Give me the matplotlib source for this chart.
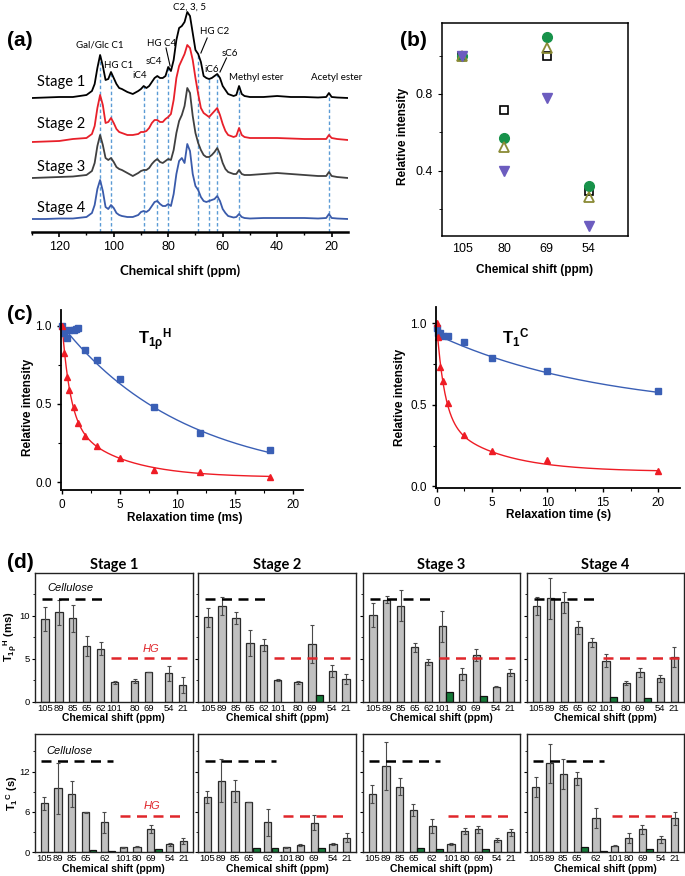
import numpy as np
import matplotlib
matplotlib.use('Agg')
import matplotlib.pyplot as plt
from matplotlib.ticker import MultipleLocator, FixedLocator

plt.rcParams['font.family'] = ['Liberation Sans', 'DejaVu Sans']
plt.rcParams['mathtext.fontset'] = 'custom'
plt.rcParams['mathtext.rm'] = 'Liberation Sans'
plt.rcParams['mathtext.bf'] = 'Liberation Sans:bold'
plt.rcParams['mathtext.it'] = 'Liberation Sans:italic'

W, H = 685, 876
fig = plt.figure(figsize=(W / 100, H / 100), dpi=100)


def box(l, t, r, b):
    return [l / W, 1 - b / H, (r - l) / W, (b - t) / H]


def ftext(x, y, s, **kw):
    kw.setdefault('ha', 'center')
    kw.setdefault('va', 'center')
    return fig.text(x / W, 1 - y / H, s, **kw)


CAL = ['Lato', 'DejaVu Sans']

# ---------------------------------------------------------------- data (a)
ppm = [130, 125, 120, 115, 110, 108, 107, 106, 105, 104, 103, 102, 101, 100, 99, 98, 97, 95,
       93, 91, 90, 89, 88, 87, 86, 85, 84, 83, 82, 81, 80, 79, 78, 77, 76, 75, 74, 73, 72,
       71, 70, 69, 68, 67, 66, 65, 64, 63, 62, 61, 60, 59, 58, 56, 55, 54, 53, 52, 50, 45,
       40, 35, 30, 25, 22, 21, 20, 18, 14]
stage1 = [0, 0.5, 1, 1, 3, 7, 14, 30, 43, 32, 18, 19, 26, 20, 14, 10, 9, 6,
          4, 7, 9, 12, 10, 12, 16, 20, 22, 20, 20, 22, 31, 27, 38, 58, 70, 72, 76, 86, 82,
          65, 48, 44, 36, 22, 20, 19, 20, 22, 24, 20, 12, 8, 4, 2, 3, 12, 4, 2, 1, 1,
          2, 1, 1, 0.5, 1, 5, 1, 0.5, 0]
stage2 = [-2, -1.5, -1, 1, 2, 6, 14, 32, 45, 35, 17, 18, 22, 17, 11, 8, 7, 5,
          5, 6, 8, 8, 9, 12, 17, 20, 20, 18, 18, 21, 23, 26, 40, 62, 74, 80, 86, 95, 92,
          80, 62, 46, 32, 27, 25, 23, 26, 29, 32, 25, 16, 9, 5, 3, 4, 12, 5, 3, 2, 2,
          2, 1.5, 1, 1, 1, 5, 2, 1, 0]
stage3 = [0, 0.5, 1, 1.5, 3, 7, 15, 32, 43, 33, 20, 18, 20, 16, 11, 9, 8, 5,
          2, 5, 7, 8, 8, 10, 14, 17, 19, 16, 15, 17, 19, 18, 28, 45, 57, 63, 72, 90, 85,
          62, 45, 35, 28, 23, 21, 21, 23, 26, 30, 24, 15, 9, 6, 4, 4, 8, 4, 3, 3, 4,
          5, 4, 3, 2, 2, 6, 2, 1, 0]
stage4 = [0, 0, 0.5, 0.5, 2, 6, 14, 30, 39, 28, 12, 10, 14, 11, 6, 4, 3, 2,
          2, 4, 7, 8, 7, 9, 13, 17, 18, 15, 13, 13, 15, 13, 25, 45, 58, 61, 56, 75, 68,
          45, 33, 29, 22, 18, 17, 18, 19, 20, 23, 18, 10, 6, 3, 1.5, 2, 5, 2, 1, 0.5, 1,
          1, 1, 1, 0.5, 1, 5, 1, 0.5, 0]
stage_names = ['Stage 1', 'Stage 2', 'Stage 3', 'Stage 4']
marked_shifts = [105, 101, 89, 84, 80, 69, 65, 62, 54, 21]
peak_labels = ['Gal/Glc C1', 'HG C1', 'iC4', 'sC4', 'HG C4', 'C2, 3, 5', 'HG C2',
               'iC6', 'sC6', 'Methyl ester', 'Acetyl ester']

# ---------------------------------------------------------------- data (b)
b_cats = ['105', '80', '69', '54']
b_square = [1.0, 0.717, 1.0, 0.296]
b_circle = [1.0, 0.571, 1.096, 0.322]
b_triangle = [1.0, 0.525, 1.04, 0.265]
b_down = [1.0, 0.40, 0.78, 0.114]

# ---------------------------------------------------------------- data (c)
h_time_blue = [0, 0.2, 0.4, 0.6, 1.0, 1.2, 1.4, 2, 3, 5, 8, 12, 18]
h_int_blue = [1.0, 0.953, 0.92, 0.974, 0.974, 0.98, 0.987, 0.846, 0.782, 0.66, 0.479, 0.312, 0.205]
h_time_red = [0, 0.2, 0.4, 0.6, 1.0, 1.4, 2, 3, 5, 8, 12, 18]
h_int_red = [1.0, 0.825, 0.675, 0.59, 0.479, 0.38, 0.295, 0.23, 0.156, 0.077, 0.062, 0.034]
h_fit_blue = dict(a=1.0, T=10.8)
h_fit_red = dict(a1=0.6, T1=0.7, a2=0.37, T2=4.5, c=0.03)

c_time_blue = [0, 0.1, 0.35, 0.6, 1.0, 2.5, 5, 10, 20]
c_int_blue = [0.974, 0.94, 0.94, 0.925, 0.923, 0.884, 0.786, 0.709, 0.582]
c_time_red = [0, 0.1, 0.35, 0.6, 1.0, 2.5, 5, 10, 20]
c_int_red = [1.0, 0.913, 0.735, 0.649, 0.51, 0.312, 0.214, 0.161, 0.096]
c_fit_blue = dict(a1=0.07, T1=0.15, a2=0.48, T2=15.0, c=0.45)
c_fit_red = dict(a1=0.58, T1=0.7, a2=0.33, T2=5.0, c=0.09)

# ---------------------------------------------------------------- data (d)
d_cats = ['105', '89', '85', '65', '62', '101', '80', '69', '54', '21']
t1rho_green_cats = ['101', '69']
t1c_green_cats = ['65', '62', '69']

t1rho = [[9.6, 10.4, 9.7, 6.5, 6.15, 2.26, 2.41, 3.5, 3.3, 1.95],
         [9.84, 11.15, 9.7, 6.8, 6.6, 2.49, 2.26, 6.7, 3.6, 2.65],
         [10.1, 11.9, 11.2, 6.34, 4.66, 8.8, 3.23, 5.44, 1.75, 3.38],
         [11.15, 12.05, 11.58, 8.67, 6.92, 4.78, 2.2, 3.42, 2.72, 5.17]]
t1rho_err = [[1.4, 1.5, 1.6, 1.2, 0.75, 0.2, 0.2, 0.0, 0.9, 0.95],
             [1.1, 1.0, 0.7, 1.5, 0.7, 0.1, 0.15, 2.2, 0.7, 0.55],
             [1.4, 0.4, 1.8, 0.5, 0.35, 1.8, 0.65, 0.75, 0.05, 0.4],
             [1.0, 2.4, 1.2, 0.75, 0.55, 0.75, 0.2, 0.55, 0.4, 1.17]]
t1rho_green = [[np.nan, np.nan],
               [np.nan, 0.75],
               [1.1, 0.63],
               [0.6, 0.45]]

t1c = [[7.29, 9.52, 8.68, 5.95, 4.46, 0.74, 0.84, 3.42, 1.19, 1.68],
       [8.18, 10.65, 9.12, 7.44, 4.46, 0.74, 1.09, 4.4, 1.24, 2.2],
       [8.68, 12.84, 9.76, 6.29, 3.91, 1.24, 3.17, 3.42, 1.83, 2.98],
       [9.67, 13.24, 11.65, 11.0, 5.06, 0.99, 2.18, 3.42, 1.93, 5.06]]
t1c_err = [[1.0, 3.8, 1.9, 0.05, 1.6, 0.05, 0.05, 0.6, 0.2, 0.45],
           [0.9, 3.2, 1.6, 0.0, 2.0, 0.05, 0.1, 1.15, 0.1, 0.6],
           [1.35, 3.5, 1.25, 0.9, 1.05, 0.15, 0.5, 0.55, 0.3, 0.5],
           [1.5, 2.9, 2.3, 1.0, 1.5, 0.1, 0.75, 0.65, 0.5, 1.0]]
t1c_green = [[0.34, 0.24, 0.45],
             [0.6, 0.6, 0.6],
             [0.69, 0.45, 0.45],
             [0.84, 0.24, 0.45]]
cellulose_ref = [12.0, 13.6]
hg_ref = [5.1, 5.4]

# ================================================================ panel (a)
ax = fig.add_axes(box(32, 2, 348, 232))
ax.set_xlim(130, 14)
ax.set_ylim(0, 230)
for s in ['top', 'right', 'left']:
    ax.spines[s].set_visible(False)
ax.spines['bottom'].set_linewidth(1.8)
ax.set_yticks([])
ax.xaxis.set_major_locator(MultipleLocator(20))
ax.xaxis.set_minor_locator(MultipleLocator(10))
ax.tick_params(axis='x', which='major', direction='out', length=3.5, width=1.2,
               labelsize=9, pad=3)
ax.tick_params(axis='x', which='minor', direction='out', length=2.5, width=1)

bases = [134, 92, 54, 13]
colors_a = ['#000000', '#e8202a', '#404040', '#3a5bab']
spectra = [stage1, stage2, stage3, stage4]
ppm_arr = np.array(ppm, float)
for sp, base, col in zip(spectra, bases, colors_a):
    ax.plot(ppm_arr, base + np.array(sp, float), color=col, lw=1.3, zorder=3)

s1 = np.array(stage1, float)
for p in marked_shifts:
    top = bases[0] + np.interp(p, ppm_arr[::-1], s1[::-1])
    ax.plot([p, p], [0, top], ls=(0, (2.5, 1.8)), color='#5b9bd5', lw=1.0, zorder=2)

lab_pos = [(105, 187), (98.3, 166), (90.3, 156), (85.2, 170), (82.4, 189), (72.0, 225),
           (62.9, 200), (63.9, 162), (57.4, 179), (47.6, 154), (18.3, 154)]
for txt, (x, y) in zip(peak_labels, lab_pos):
    ax.text(x, y, txt, ha='center', va='center', fontsize=7, family=CAL, clip_on=False)
for (x0, y0), (x1, y1) in [((80.8, 184), (79.3, 166)), ((65.7, 194), (68.0, 179)),
                           ((58.6, 174), (61.0, 160))]:
    ax.plot([x0, x1], [y0, y1], color='k', lw=0.8)
stage_y = [150, 108, 65, 24]
for name, y in zip(stage_names, stage_y):
    ax.text(128.2, y, name, ha='left', va='center', fontsize=10.5, family=CAL)

ftext(180, 271, 'Chemical shift (ppm)', fontsize=9.5, fontweight='bold', family=CAL)
ftext(20, 40, '(a)', fontsize=15, fontweight='bold')

# ================================================================ panel (b)
axb = fig.add_axes(box(442, 23, 628, 236))
xb = np.arange(len(b_cats))
axb.plot(xb, b_square, 's', mfc='none', mec='k', ms=5.5, mew=1.2)
axb.plot(xb, b_circle, 'o', color='#17924a', ms=7)
axb.plot(xb, b_triangle, '^', mfc='none', mec='#8a8a35', ms=7, mew=1.3)
axb.plot(xb, b_down, 'v', color='#6c5cbf', ms=7)
axb.set_xlim(-0.48, 3.93)
axb.set_ylim(0.062, 1.169)
axb.set_xticks(xb)
axb.set_xticklabels(b_cats)
axb.yaxis.set_major_locator(FixedLocator([0.4, 0.8]))
axb.yaxis.set_minor_locator(FixedLocator([0.2, 0.6, 1.0]))
axb.tick_params(axis='x', length=0, labelsize=9, pad=5)
axb.tick_params(axis='y', which='major', direction='out', length=3, labelsize=9)
axb.tick_params(axis='y', which='minor', direction='out', length=2)
for s in axb.spines.values():
    s.set_linewidth(1.1)
ftext(403, 136, 'Relative intensity', fontsize=8.5, fontweight='bold', rotation=90)
ftext(535, 270, 'Chemical shift (ppm)', fontsize=8.5, fontweight='bold')
ftext(413, 41, '(b)', fontsize=15, fontweight='bold')


# ================================================================ panel (c)
def style_c(a):
    for s in ['top', 'right']:
        a.spines[s].set_visible(False)
    for s in ['left', 'bottom']:
        a.spines[s].set_linewidth(1.3)
    a.xaxis.set_major_locator(MultipleLocator(5))
    a.xaxis.set_minor_locator(MultipleLocator(2.5))
    a.yaxis.set_major_locator(MultipleLocator(0.5))
    a.yaxis.set_minor_locator(MultipleLocator(0.25))
    a.tick_params(which='major', direction='out', length=3, width=1, labelsize=8.5)
    a.tick_params(which='minor', direction='out', length=2, width=0.8)
    a.yaxis.set_major_formatter(matplotlib.ticker.FormatStrFormatter('%.1f'))


blue_c = '#3a5fb5'
red_c = '#ee1c25'

axc1 = fig.add_axes(box(61, 310, 303, 490))
style_c(axc1)
axc1.set_xlim(-0.1, 20.9)
axc1.set_ylim(-0.05, 1.10)
tt = np.linspace(0, 18, 300)
axc1.plot(tt, h_fit_blue['a'] * np.exp(-tt / h_fit_blue['T']), color=blue_c, lw=1.0)
axc1.plot(tt, h_fit_red['a1'] * np.exp(-tt / h_fit_red['T1'])
          + h_fit_red['a2'] * np.exp(-tt / h_fit_red['T2']) + h_fit_red['c'], color=red_c, lw=1.0)
axc1.plot(h_time_blue, h_int_blue, 's', color=blue_c, ms=4.5, clip_on=False)
axc1.plot(h_time_red, h_int_red, '^', color=red_c, ms=5, clip_on=False)
ftext(28, 407, 'Relative intensity', fontsize=8.5, fontweight='bold', rotation=90)
ftext(185, 518, 'Relaxation time (ms)', fontsize=8.5, fontweight='bold')
ftext(155, 340, r'$\mathbf{T_{1ρ}{}^{H}}$', fontsize=12)
ftext(20, 315, '(c)', fontsize=15, fontweight='bold')

axc2 = fig.add_axes(box(436, 307, 680, 488))
style_c(axc2)
axc2.set_xlim(-0.05, 21.95)
axc2.set_ylim(-0.01, 1.10)
tt = np.linspace(0, 20, 400)
axc2.plot(tt, c_fit_blue['a1'] * np.exp(-tt / c_fit_blue['T1'])
          + c_fit_blue['a2'] * np.exp(-tt / c_fit_blue['T2']) + c_fit_blue['c'], color=blue_c, lw=1.0)
axc2.plot(tt, c_fit_red['a1'] * np.exp(-tt / c_fit_red['T1'])
          + c_fit_red['a2'] * np.exp(-tt / c_fit_red['T2']) + c_fit_red['c'], color=red_c, lw=1.0)
axc2.plot(c_time_blue, c_int_blue, 's', color=blue_c, ms=4.5, clip_on=False)
axc2.plot(c_time_red, c_int_red, '^', color=red_c, ms=5, clip_on=False)
ftext(400, 397, 'Relative intensity', fontsize=8.5, fontweight='bold', rotation=90)
ftext(559, 515, 'Relaxation time (s)', fontsize=8.5, fontweight='bold')
ftext(516, 338, r'$\mathbf{T_{1}{}^{C}}$', fontsize=12)


# ================================================================ panel (d)
def slot_positions(cats, green_cats, extra):
    pos, x = [], 0.0
    for c in cats:
        pos.append(x)
        x += 1 + (extra if c in green_cats else 0)
    return pos


row_specs = [
    dict(vals=t1rho, errs=t1rho_err, green=t1rho_green, gcats=t1rho_green_cats, extra=0.45,
         top=573, bottom=701.7, ylim=15, major=[0, 5, 10], minor=[2.5, 7.5, 12.5],
         xlim=(-0.72, 10.61),
         cell=(-0.2, 4.15), hg=(4.76, 10.3), cell_y=cellulose_ref[0], hg_y=hg_ref[0],
         cell_lab=(1.8, 13.3), hg_lab=(7.6, 6.2),
         ylabel=r'$\mathbf{T_{1ρ}{}^{H}}$' + ' (ms)', ylab_xy=(11, 637), xlab_y=718),
    dict(vals=t1c, errs=t1c_err, green=t1c_green, gcats=t1c_green_cats, extra=0.36,
         top=734, bottom=852.3, ylim=17.6, major=[0, 6, 12], minor=[3, 9, 15],
         xlim=(-0.67, 10.74),
         cell=(-0.2, 4.96), hg=(5.5, 10.25), cell_y=cellulose_ref[1], hg_y=hg_ref[1],
         cell_lab=(1.85, 15.1), hg_lab=(7.83, 6.9),
         ylabel=r'$\mathbf{T_{1}{}^{C}}$' + ' (s)', ylab_xy=(12, 793), xlab_y=869),
]
col_x = [(35, 192.5), (198, 356), (363, 520), (526.5, 684)]

for r, spec in enumerate(row_specs):
    pos = np.array(slot_positions(d_cats, spec['gcats'], spec['extra']))
    gidx = [d_cats.index(c) for c in spec['gcats']]
    for k in range(4):
        l, rr = col_x[k]
        a = fig.add_axes(box(l, spec['top'], rr, spec['bottom']))
        a.bar(pos, spec['vals'][k], width=0.52, color='#c0c0c0', edgecolor='#2a2a2a',
              linewidth=0.9, zorder=2)
        a.errorbar(pos, spec['vals'][k], yerr=spec['errs'][k], fmt='none', ecolor='#4a4a4a',
                   elinewidth=0.8, capsize=1.6, capthick=0.8, zorder=3)
        gv = np.array(spec['green'][k], float)
        ok = ~np.isnan(gv)
        a.bar(pos[gidx][ok] + 0.53, gv[ok], width=0.5, color='#157a38', edgecolor='#111111',
              linewidth=0.9, zorder=2)
        a.plot(spec['cell'], [spec['cell_y']] * 2, color='k', lw=1.8, ls=(0, (4, 2.6)), zorder=4)
        a.plot(spec['hg'], [spec['hg_y']] * 2, color='#e0262b', lw=1.8, ls=(0, (4, 2.6)), zorder=4)
        a.set_xlim(*spec['xlim'])
        a.set_ylim(0, spec['ylim'])
        a.set_xticks(pos)
        a.set_xticklabels(d_cats)
        a.yaxis.set_major_locator(FixedLocator(spec['major']))
        a.yaxis.set_minor_locator(FixedLocator(spec['minor']))
        a.tick_params(axis='x', length=0, labelsize=6.8, pad=1.5)
        a.tick_params(axis='y', which='major', direction='out', length=2.5, labelsize=6.8, pad=1.5)
        a.tick_params(axis='y', which='minor', direction='out', length=1.5)
        if k > 0:
            a.set_yticklabels([])
        for s in a.spines.values():
            s.set_linewidth(1.0)
            s.set_color('#222222')
        if k == 0:
            a.text(spec['cell_lab'][0], spec['cell_lab'][1], 'Cellulose', ha='center', va='center',
                   fontsize=8, style='italic')
            a.text(spec['hg_lab'][0], spec['hg_lab'][1], 'HG', ha='center', va='center',
                   fontsize=8, style='italic', color='#e0262b')
        ftext((l + rr) / 2, spec['xlab_y'], 'Chemical shift (ppm)', fontsize=7.5,
              fontweight='bold')
        if r == 0:
            ftext((l + rr) / 2, 565, stage_names[k], fontsize=10.5, fontweight='bold', family=CAL)
    ftext(spec['ylab_xy'][0], spec['ylab_xy'][1], spec['ylabel'], fontsize=8,
          fontweight='bold', rotation=90)

ftext(20, 562, '(d)', fontsize=15, fontweight='bold')

fig.savefig('out.png', dpi=100)
